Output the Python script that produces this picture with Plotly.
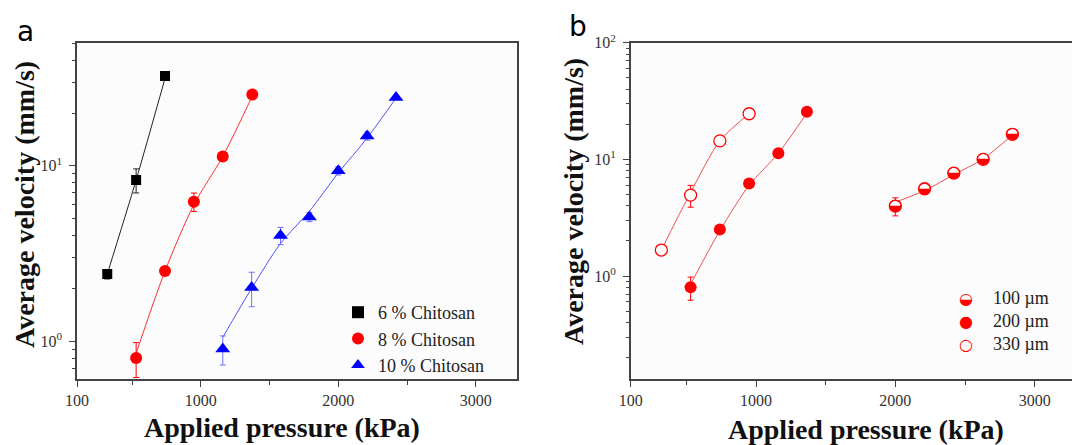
import plotly.graph_objects as go

# ---------------- data ----------------
# panel a
a6_x = [320, 530, 740]
a6_y = [2.41, 8.3, 32.5]
a6_e = [0.15, 1.3, 1.6]
a6_fit = [2.41, 8.3, 31.5]

a8_x = [530, 740, 950, 1160, 1375]
a8_y = [0.80, 2.51, 6.24, 11.3, 25.5]
a8_e = [0.18, 0.1, 0.75, 0.3, 0.4]
a8_fit = [0.85, 2.51, 6.0, 11.3, 25.0]

a10_x = [1160, 1370, 1580, 1790, 2000, 2210, 2420]
a10_y = [0.90, 2.02, 4.0, 5.1, 9.36, 14.8, 24.5]
a10_e = [0.17, 0.45, 0.45, 0.3, 0.5, 0.8, 0.6]
a10_fit = [1.05, 2.0, 3.6, 5.5, 9.1, 14.4, 24.3]

# panel b
b100_x = [2000, 2210, 2420, 2630, 2840]
b100_y = [3.98, 5.6, 7.63, 10.0, 16.4]
b100_e = [0.7, 0.4, 0.4, 0.4, 0.8]
b100_fit = [4.3, 5.4, 7.4, 10.1, 16.2]

b200_x = [530, 740, 950, 1160, 1365]
b200_y = [0.80, 2.51, 6.2, 11.3, 25.6]
b200_e = [0.18, 0.1, 0.4, 0.3, 0.4]
b200_fit = [0.85, 2.45, 6.0, 11.3, 25.0]

b330_x = [320, 530, 740, 950]
b330_y = [1.67, 4.94, 14.4, 24.6]
b330_e = [0.1, 1.05, 0.8, 1.5]
b330_fit = [1.67, 5.2, 14.4, 24.6]

x_tickvals = [100, 1000, 2000, 3000]
x_ticktext = ["100", "1000", "2000", "3000"]
y_tickvals = [1, 10, 100]
y_ticktext = ["10<sup>0</sup>", "10<sup>1</sup>", "10<sup>2</sup>"]

legend_a = ["6 % Chitosan", "8 % Chitosan", "10 % Chitosan"]
legend_b = ["100 µm", "200 µm", "330 µm"]
x_title = "Applied pressure (kPa)"
y_title = "Average velocity (mm/s)"

# ---------------- figure ----------------
RED = "#ff0000"
LRED = "#f05050"
BLUE = "#0000ff"
SERIF = "Liberation Serif"
W, H = 1072, 445

fig = go.Figure()

def err(e, color):
    return dict(type="data", array=e, visible=True, color=color, thickness=1, width=3)

# panel a fit lines
for xs, ys, c in [(a6_x, a6_fit, "#222222"), (a8_x, a8_fit, "#ff3030"), (a10_x, a10_fit, "#5050ff")]:
    fig.add_trace(go.Scatter(x=xs, y=ys, mode="lines", line=dict(color=c, width=1, shape="spline", smoothing=0.8),
                             showlegend=False, xaxis="x", yaxis="y", hoverinfo="skip"))
fig.add_trace(go.Scatter(x=a6_x, y=a6_y, mode="markers", name=legend_a[0],
                         marker=dict(symbol="square", size=10, color="black"),
                         error_y=err(a6_e, "#222222"), xaxis="x", yaxis="y", legend="legend"))
fig.add_trace(go.Scatter(x=a8_x, y=a8_y, mode="markers", name=legend_a[1],
                         marker=dict(symbol="circle", size=12, color=RED),
                         error_y=err(a8_e, RED), xaxis="x", yaxis="y", legend="legend"))
fig.add_trace(go.Scatter(x=a10_x, y=a10_y, mode="markers", name=legend_a[2],
                         marker=dict(symbol="triangle-up", size=13, color=BLUE),
                         error_y=err(a10_e, "#7070ff"), xaxis="x", yaxis="y", legend="legend"))

# panel b fit lines
for xs, ys in [(b100_x, b100_fit), (b200_x, b200_fit), (b330_x, b330_fit)]:
    fig.add_trace(go.Scatter(x=xs, y=ys, mode="lines", line=dict(color=LRED, width=1, shape="spline", smoothing=0.8),
                             showlegend=False, xaxis="x2", yaxis="y2", hoverinfo="skip"))
# 100 um: half-filled circle glyph
fig.add_trace(go.Scatter(x=b100_x, y=b100_y, mode="markers", showlegend=False,
                         marker=dict(symbol="circle", size=12, color="white", line=dict(color=RED, width=1.3)),
                         error_y=err(b100_e, RED), xaxis="x2", yaxis="y2"))
fig.add_trace(go.Scatter(x=b100_x, y=b100_y, mode="text", text=["◒"] * len(b100_x), showlegend=False,
                         textposition="middle center",
                         textfont=dict(family="DejaVu Sans", size=16, color=RED),
                         xaxis="x2", yaxis="y2", hoverinfo="skip"))
fig.add_trace(go.Scatter(x=b200_x, y=b200_y, mode="markers", showlegend=False,
                         marker=dict(symbol="circle", size=12, color=RED),
                         error_y=err(b200_e, RED), xaxis="x2", yaxis="y2"))
fig.add_trace(go.Scatter(x=b330_x, y=b330_y, mode="markers", showlegend=False,
                         marker=dict(symbol="circle", size=12, color="white", line=dict(color=RED, width=1.3)),
                         error_y=err(b330_e, RED), xaxis="x2", yaxis="y2"))

axis_common = dict(showline=True, linecolor="#444444", linewidth=1.5, ticks="outside",
                   ticklen=6, tickwidth=1.2, tickcolor="#444444", showgrid=False, zeroline=False,
                   automargin=False,
                   tickfont=dict(family=SERIF, size=16, color="#333333"))

minor_y = [m * 10 ** k for k in (-1, 0, 1) for m in range(2, 10)]
title_font = dict(family=SERIF, size=28, color="#111111")

fig.update_layout(
    width=W, height=H,
    margin=dict(l=0, r=0, t=0, b=0, autoexpand=False),
    paper_bgcolor="white", plot_bgcolor="#fcfcfc",
    showlegend=True,
    xaxis=dict(domain=[77 / W, 517 / W], range=[100, 3300], tickvals=x_tickvals, ticktext=x_ticktext,
               mirror=True, anchor="y",
               minor=dict(tickvals=[500, 1500, 2500], ticks="outside", ticklen=4, tickcolor="#444444"),
               **axis_common),
    yaxis=dict(domain=[1 - 379.3 / H, 1 - 42.7 / H], type="log", range=[-0.218, 1.702], tickvals=y_tickvals,
               ticktext=y_ticktext, mirror=True, anchor="x", ticklabelstandoff=4,
               minor=dict(tickvals=minor_y, ticks="outside", ticklen=3, tickcolor="#444444"),
               **axis_common),
    xaxis2=dict(domain=[630.7 / W, 1.0], range=[100, 3268], tickvals=x_tickvals, ticktext=x_ticktext,
                mirror=True, anchor="y2",
                minor=dict(tickvals=[500, 1500, 2500], ticks="outside", ticklen=4, tickcolor="#444444"),
                **axis_common),
    yaxis2=dict(domain=[1 - 379.3 / H, 1 - 42.7 / H], type="log", range=[-0.885, 2.0], tickvals=y_tickvals,
                ticktext=y_ticktext, mirror=False, anchor="x2", ticklabelstandoff=4,
                minor=dict(tickvals=minor_y, ticks="outside", ticklen=3, tickcolor="#444444"),
                **axis_common),
    legend=dict(x=338 / W, y=1 - 294 / H, xanchor="left", yanchor="top",
                bgcolor="rgba(0,0,0,0)", font=dict(family=SERIF, size=18, color="#222222"),
                tracegroupgap=0, itemsizing="constant"),
)

# axis titles
for txt, px, py, ang in [(x_title, 282, 427, 0), (x_title, 866, 429, 0),
                         (y_title, 24, 205, -90), (y_title, 574, 202, -90)]:
    fig.add_annotation(text="<b>" + txt + "</b>", x=px / W, y=1 - py / H, xref="paper", yref="paper",
                       showarrow=False, xanchor="center", yanchor="middle", textangle=ang, font=title_font)

# panel labels
fig.add_annotation(text="a", x=25 / W, y=1 - 31 / H, xref="paper", yref="paper", showarrow=False,
                   xanchor="center", yanchor="middle",
                   font=dict(family="DejaVu Sans", size=28, color="black"))
fig.add_annotation(text="b", x=578 / W, y=1 - 27 / H, xref="paper", yref="paper", showarrow=False,
                   xanchor="center", yanchor="middle",
                   font=dict(family="DejaVu Sans", size=28, color="black"))

# panel b legend (glyph + label)
glyphs = ["◒", "●", "○"]
rows_y = [298, 321, 344]
for g, lab, yy in zip(glyphs, legend_b, rows_y):
    fig.add_annotation(text=g, x=975 / W, y=1 - yy / H, xref="paper", yref="paper", showarrow=False,
                       yanchor="middle",
                       font=dict(family="DejaVu Sans", size=16, color=RED))
    fig.add_annotation(text=lab, x=991 / W, y=1 - yy / H, xref="paper", yref="paper", showarrow=False,
                       xanchor="left", yanchor="middle", font=dict(family=SERIF, size=18, color="#222222"))

fig.write_html("out.html", config={"displayModeBar": False},
               post_script="document.body.style.margin='0';document.body.style.padding='0';")
